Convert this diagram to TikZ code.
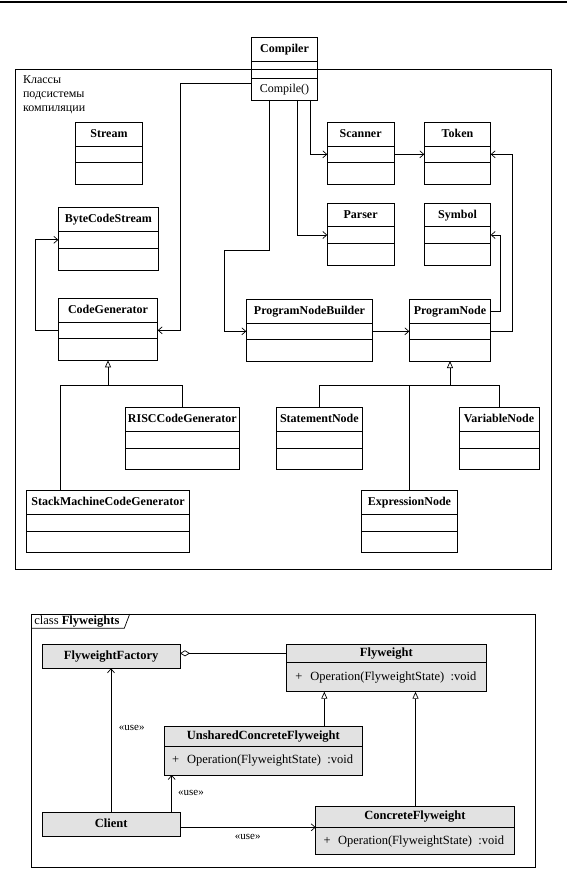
\documentclass[tikz,border=0pt]{standalone}
\usepackage{fontspec}
\setmainfont{Liberation Serif}
\usetikzlibrary{arrows.meta}
\definecolor{boxgray}{RGB}{226,226,226}
\tikzset{
  box/.style={draw, inner sep=0pt, outer sep=0pt},
  ttl/.style={font=\bfseries\fontsize{12}{14}\selectfont, inner sep=0pt, text height=8.5pt, text depth=2.5pt},
  ttlb/.style={font=\bfseries\fontsize{12.5}{14}\selectfont, inner sep=0pt, text height=8.5pt, text depth=2.5pt},
  optxt/.style={font=\fontsize{12.5}{14}\selectfont, inner sep=0pt, anchor=west, text height=8.5pt, text depth=2.5pt},
  plaintxt/.style={font=\fontsize{12}{14}\selectfont, inner sep=0pt},
  usetxt/.style={font=\fontsize{11}{13}\selectfont, inner sep=0pt},
  dep/.style={-{Straight Barb[length=4pt,width=7pt]}},
  inh/.style={-{Triangle[open,length=7pt,width=6pt]}},
  agg/.style={{Diamond[open,length=10pt,width=6pt]}-},
}
% name, x1, y1, x2, y2, divider1, divider2, title
\newcommand\umlbox[8]{%
  \node[box, minimum width={(#4-#2)*1pt}, minimum height={(#5-#3)*1pt}] (#1) at ({(#2+#4)/2},{(#3+#5)/2}) {};
  \draw (#2,#6) -- (#4,#6) (#2,#7) -- (#4,#7);
  \node[ttl] (#1-t) at ({(#2+#4)/2},{(#3+#6)/2}) {#8};
  \coordinate (#1-a) at (#2,{(#6+#7)/2});
}
% name, x1, y1, x2, y2, title  (single compartment, grey)
\newcommand\umlone[6]{%
  \node[box, fill=boxgray, minimum width={(#4-#2)*1pt}, minimum height={(#5-#3)*1pt}] (#1) at ({(#2+#4)/2},{(#3+#5)/2}) {};
  \node[ttlb] (#1-t) at ({(#2+#4)/2},{(#3+#5)/2}) {#6};
}
% name, x1, y1, x2, y2, divider, title, plus-x, op-x
\newcommand\umltwo[9]{%
  \node[box, fill=boxgray, minimum width={(#4-#2)*1pt}, minimum height={(#5-#3)*1pt}] (#1) at ({(#2+#4)/2},{(#3+#5)/2}) {};
  \draw (#2,#6) -- (#4,#6);
  \node[ttlb] (#1-t) at ({(#2+#4)/2},{(#3+#6)/2}) {#7};
  \node[optxt] (#1-p) at (#8,{(#6+#5)/2}) {+};
  \node[optxt] (#1-o) at (#9,{(#6+#5)/2}) {Operation(FlyweightState) \ :void};
}
\begin{document}
\begin{tikzpicture}[x=1pt, y=-1pt, line width=0.7pt]
\useasboundingbox (0,0) rectangle (567,872);
\draw[line width=1.2pt] (0,2) -- (567,2);

% ---------- top diagram ----------
\node[box, minimum width={(551.5-15.7)*1pt}, minimum height={(569.3-69)*1pt}] (pkg) at ({(15.7+551.5)/2},{(69+569.3)/2}) {};
\node[plaintxt, anchor=north west, align=left] (pkg-l) at (22.7,75) {Классы\\подсистемы\\компиляции};

\umlbox{comp}{251.7}{37.3}{317.3}{100}{61.7}{78.3}{Compiler}
\node[plaintxt] (comp-o) at (284.5,90) {Compile()};

\umlbox{stream}{75.7}{122.3}{142.3}{184}{146.3}{162.3}{Stream}
\umlbox{bcs}{58.3}{207.7}{158.3}{270}{231.3}{248.3}{ByteCodeStream}
\umlbox{cg}{58.3}{298.7}{157.7}{360.3}{322.3}{338.3}{CodeGenerator}
\umlbox{risc}{125.3}{407.7}{239.3}{469}{431.3}{448.3}{RISCCodeGenerator}
\umlbox{stack}{26.7}{490.7}{189.3}{552}{514.3}{531.3}{StackMachineCodeGenerator}
\umlbox{sc}{327.3}{122.3}{394}{184}{146.3}{162.3}{Scanner}
\umlbox{tok}{424.3}{122.3}{490.7}{184}{146.3}{162.3}{Token}
\umlbox{pa}{327.3}{203.3}{394}{265.3}{226.7}{243.3}{Parser}
\umlbox{sym}{424.3}{203.3}{490.7}{265.3}{226.7}{243.3}{Symbol}
\umlbox{pnb}{246.3}{299.3}{372.7}{361}{323.3}{339.3}{ProgramNodeBuilder}
\umlbox{pn}{409.3}{299.3}{490.7}{361}{323.3}{339.3}{ProgramNode}
\umlbox{stmt}{276}{407.7}{362.7}{469}{431.3}{448.3}{StatementNode}
\umlbox{var}{459}{407.7}{539}{469}{431.3}{448.3}{VariableNode}
\umlbox{expr}{361.3}{490.7}{457.7}{552}{514.3}{531.3}{ExpressionNode}

\draw[dep] (comp.west |- 0,83.3) -- (180.3,83.3) |- (cg.east |- cg-a);
\draw[dep] (cg.west |- cg-a) -- ++(-23,0) |- (bcs.west |- bcs-a);
\draw[dep] (comp.south -| 269.3,0) |- (224.3,250) |- (pnb.west |- pnb-a);
\draw[dep] (comp.south -| 310,0) |- (sc.west |- sc-a);
\draw[dep] (comp.south -| 297.7,0) |- (pa.west |- pa-a);
\draw[dep] (sc.east |- sc-a) -- (tok.west |- tok-a);
\draw[dep] (pnb.east |- pnb-a) -- (pn.west |- pn-a);
\draw[dep] (pn.east |- pn-t) -- ++(10,0) |- (sym.east |- sym-a);
\draw[dep] (pn.east |- pn-a) -- ++(21.6,0) |- (tok.east |- tok-a);

\draw[inh] (cg.south |- 0,385) -- (cg.south);
\draw (risc.north) |- (60.7,385) -- (stack.north -| 60.7,0);
\draw[inh] (pn.south |- 0,385) -- (pn.south);
\draw (stmt.north) |- (var.north |- 0,385) -- (var.north);
\draw (expr.north) -- (expr.north |- 0,385);

% ---------- bottom diagram ----------
\node[box, minimum width={(535.7-31.7)*1pt}, minimum height={(867-614)*1pt}] (fr) at ({(31.7+535.7)/2},{(614+867)/2}) {};
\node[font=\fontsize{12.5}{14}\selectfont, inner sep=0pt, anchor=west] (fr-l) at (34,621.3) {class \textbf{Flyweights}};
\draw (fr.west |- 0,628.3) -- (124.3,628.3) -- (129.7,614);

\umlone{ff}{42.3}{644}{180}{668.3}{FlyweightFactory}
\umlone{cl}{42.3}{812.7}{180}{836}{Client}
\umltwo{fw}{286.7}{644.3}{486}{691.7}{662.7}{Flyweight}{295}{310}
\umltwo{un}{164}{726.7}{362.7}{775}{746.7}{UnsharedConcreteFlyweight}{171.7}{186.7}
\umltwo{cf}{315.7}{806}{514.3}{854.3}{827.7}{ConcreteFlyweight}{323.3}{337.7}

\draw[agg] (ff.east |- 0,653.3) -- (fw.west |- 0,653.3);
\draw[dep] (cl.north -| 111,0) -- (ff.south -| 111,0);
\draw[dep] (cl.north -| 171.7,0) -- (un.south -| 171.7,0);
\draw[dep] (cl.east |- 0,827.3) -- (cf.west |- 0,827.3);
\draw[inh] (un.north -| 324.3,0) -- (fw.south -| 324.3,0);
\draw[inh] (cf.north -| 415.5,0) -- (fw.south -| 415.5,0);

\node[usetxt] (u1) at (131.7,728.3) {«use»};
\node[usetxt] (u2) at (191,792.7) {«use»};
\node[usetxt] (u3) at (247.7,836.7) {«use»};
\end{tikzpicture}
\end{document}
